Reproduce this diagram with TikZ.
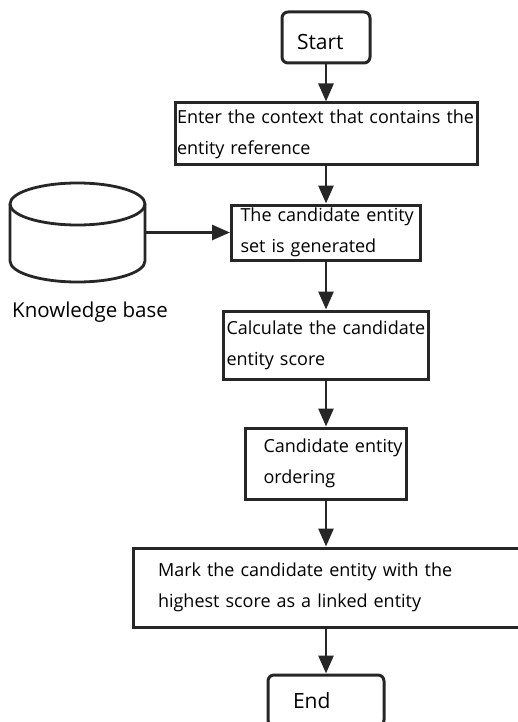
\documentclass[tikz,border=0pt]{standalone}
\usepackage{fontspec}
\setmainfont{Open Sans}
\usetikzlibrary{arrows.meta,positioning}
\tikzset{
  paso/.style={draw=black!85,line width=3pt,align=left,inner xsep=0pt,inner ysep=0pt,font=\fontsize{18}{31}\selectfont},
  terminal/.style={paso,rounded corners=6pt,font=\fontsize{21}{26}\selectfont},
  sangria/.style={execute at begin node={\leftskip=#1pt\relax}},
  flecha/.style={-{Triangle[length=18pt,width=15pt]},line width=2.8pt,draw=black!85},
  base/.style={draw=black!85,line width=2.8pt}
}
\begin{document}
\begin{tikzpicture}[x=1pt,y=-1pt]
\useasboundingbox (0,0) rectangle (518,722);
% pasos del flujo
\node[terminal,text width=88,text height=25pt,text depth=0pt,minimum height=51,sangria=15] (start) at (326,37.5) {Start};
\node[paso,text width=302,minimum height=62,sangria=2] (entrada) at (326,134)
  {Enter the context that contains the\\entity reference};
\node[paso,text width=189,minimum height=55,sangria=9] (candidatos) at (326,232.5)
  {The candidate entity\\set is generated};
\node[paso,text width=205,minimum height=68,sangria=3] (puntaje) at (326,345)
  {Calculate the candidate\\entity score};
\node[paso,text width=161,minimum height=71,sangria=18] (orden) at (326,463.5)
  {Candidate entity\\ordering};
\node[paso,text width=394,minimum height=79,sangria=25] (marca) at (330,587.5)
  {Mark the candidate entity with the\\highest score as a linked entity};
\node[terminal,text width=116,minimum height=51,sangria=25] (fin) at (326,700.5) {End};
% base de conocimiento
\draw[base] (10,204) -- (10,261) arc[start angle=180,end angle=360,x radius=67.5pt,y radius=21pt] -- (145,204);
\draw[base] (77.5,204) ellipse [x radius=67.5pt,y radius=21pt];
\coordinate (kb) at (145,232.5);
\node[anchor=base west,inner sep=0pt,font=\fontsize{20.5}{24}\selectfont] (kbtexto) at (12,317) {Knowledge base};
% flechas
\draw[flecha] (start) -- (entrada);
\draw[flecha] (entrada) -- (candidatos);
\draw[flecha] (kb) -- (candidatos.west);
\draw[flecha] (candidatos) -- (puntaje);
\draw[flecha] (puntaje) -- (orden);
\draw[flecha] (orden.south) -- (marca.north -| orden.south);
\draw[flecha] (marca.south -| fin.north) -- (fin.north);
\end{tikzpicture}
\end{document}
